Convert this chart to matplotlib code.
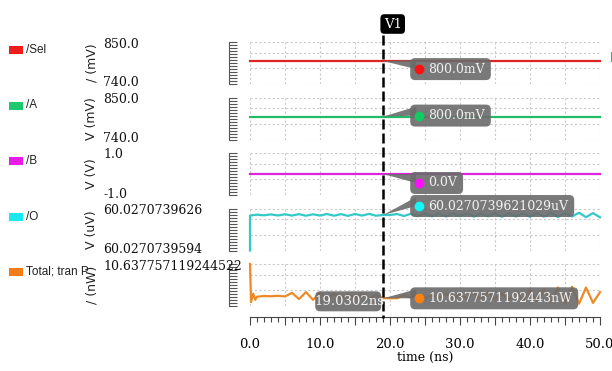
import numpy as np
import matplotlib
matplotlib.use("Agg")
import matplotlib.pyplot as plt
from matplotlib.patches import FancyBboxPatch, Polygon, Rectangle
from matplotlib.ticker import FixedLocator, MultipleLocator, FuncFormatter

W, H = 612, 371

# ---- signals -------------------------------------------------------------
names = ["/Sel", "/A", "/B", "/O", "Total; tran P"]
units = ["/ (mV)", "V (mV)", "V (V)", "V (uV)", "/ (nW)"]
trace_colors = ["#dd2424", "#22bb6a", "#de22de", "#35c8c8", "#ee8a26"]
swatch_colors = ["#ee1c1c", "#1ec86e", "#e81ce8", "#1ce8f0", "#f07c1c"]
marker_colors = ["#ff1010", "#10cc60", "#ff10ff", "#10f8f8", "#ff8010"]

sel_time = [0.0, 50.0]
sel_mv = [800.0, 800.0]
a_time = [0.0, 50.0]
a_mv = [800.0, 800.0]
b_time = [0.0, 50.0]
b_v = [0.0, 0.0]

# /O is flat to ~1e-10 uV, so keep it as offsets from the bottom of its range
o_ref_uv = 60.0270739594
o_scale_uv = 1e-10
o_time = [0.0] + list(range(0, 51))
o_delta = [0.0,
           26.6, 27.3, 26.8, 27.5, 26.7, 27.6, 26.6, 27.7, 26.5, 27.6,
           26.6, 27.8, 26.5, 27.7, 26.4, 27.8, 26.6, 27.9, 26.5, 27.1,
           27.0, 27.8, 26.3, 28.0, 26.2, 28.3, 26.0, 28.1, 25.9, 28.2,
           26.1, 28.4, 25.8, 28.3, 26.0, 28.5, 25.7, 28.2, 25.9, 28.6,
           25.6, 28.4, 25.8, 28.7, 25.5, 28.6, 25.9, 28.8, 25.4, 28.5,
           25.3]

# total power, offsets in 1e-14 nW from 10.63775711924425 nW
p_ref_nw = 10.63775711924425
p_scale_nw = 1e-14
p_time = [0.0, 0.15, 0.45, 0.75] + list(range(1, 51))
p_delta = [27.2, 2.5, 8.0, 4.0,
           6.0, 6.5, 6.3, 6.6, 6.2, 8.5, 4.5, 9.0, 4.0, 8.5,
           4.5, 8.0, 5.0, 7.5, 5.0, 8.0, 4.5, 7.0, 5.1, 5.0,
           5.0, 7.0, 5.5, 7.5, 5.0, 7.0, 5.5, 8.0, 4.5, 7.5,
           5.0, 8.5, 4.0, 9.0, 4.5, 8.0, 4.0, 9.5, 3.5, 10.5,
           3.0, 11.0, 2.5, 12.0, 2.0, 12.5, 1.5, 12.0, 2.0, 9.0]

ylims = [(740.0, 850.0), (740.0, 850.0), (-1.0, 1.0), (0.0, 32.0), (0.0, 27.2)]
range_labels = [("850.0", "740.0"), ("850.0", "740.0"), ("1.0", "-1.0"),
                ("60.0270739626", "60.0270739594"), ("10.637757119244522", None)]

series = [(sel_time, sel_mv), (a_time, a_mv), (b_time, b_v),
          (o_time, o_delta), (p_time, p_delta)]

# cursor V1 and its readouts
cursor_t = 19.0302
o_readout_uv = 60.0270739621029
p_readout_nw = 10.6377571192443
readout_values = [800.0, 800.0, 0.0,
                  (o_readout_uv - o_ref_uv) / o_scale_uv,
                  (p_readout_nw - p_ref_nw) / p_scale_nw]
readout_text = ["800.0mV", "800.0mV", "0.0V", "60.0270739621029uV", "10.6377571192443nW"]
readout_dy = [8, -1, 9, -9, 0]

# ---- layout --------------------------------------------------------------
plt.rcParams["font.family"] = "DejaVu Serif"
fig = plt.figure(figsize=(W / 100, H / 100), dpi=100)
fig.patch.set_facecolor("white")

tops = [42, 97.5, 153, 208.5, 264]
ph = 42
left, width = 250, 350
grid_fracs = [0.0, 0.38, 0.74, 1.0]
grid_kw = dict(color="#c9c9c9", lw=0.8, ls=(0, (2, 2)), zorder=0)

axes = []
for i, (t, y) in enumerate(series):
    ax = fig.add_axes([left / W, 1 - (tops[i] + ph) / H, width / W, ph / H])
    lo, hi = ylims[i]
    ax.set_xlim(0, 50)
    ax.set_ylim(lo, hi)
    ax.set_facecolor("none")
    for f in grid_fracs:
        ax.axhline(lo + f * (hi - lo), **grid_kw)
    for gx in range(0, 51, 5):
        ax.axvline(gx, **grid_kw)
    ax.plot(t, y, color=trace_colors[i], lw=1.6, zorder=2, clip_on=False)

    for s in ["top", "right", "bottom"]:
        ax.spines[s].set_visible(False)
    ax.spines["left"].set_position(("outward", 15))
    ax.spines["left"].set_color("#555555")
    ax.spines["left"].set_linewidth(0.8)
    ax.set_yticks([])
    ax.yaxis.set_minor_locator(FixedLocator(np.linspace(lo, hi, 15)))
    ax.tick_params(axis="y", which="minor", direction="in", length=5.5,
                   width=0.8, color="#555555", labelleft=False)
    ax.set_xticks([])
    axes.append(ax)

# time axis under the last strip
axb = axes[-1]
axb.spines["bottom"].set_visible(True)
axb.spines["bottom"].set_position(("outward", 8))
axb.spines["bottom"].set_color("#444444")
axb.spines["bottom"].set_linewidth(0.8)
axb.xaxis.set_major_locator(MultipleLocator(5))
axb.xaxis.set_minor_locator(MultipleLocator(1))
axb.xaxis.set_major_formatter(FuncFormatter(lambda v, p: f"{v:.1f}" if v % 10 == 0 else ""))
axb.tick_params(axis="x", which="major", direction="out", length=6, width=0.8,
                color="#444444", labelsize=9.5, pad=9)
axb.tick_params(axis="x", which="minor", direction="out", length=3.5, width=0.8,
                color="#444444")
axb.set_xlabel("time (ns)", fontsize=9, labelpad=0)

# ---- overlay in pixel coordinates -----------------------------------------
ov = fig.add_axes([0, 0, 1, 1])
ov.set_xlim(0, W)
ov.set_ylim(H, 0)
ov.axis("off")
ov.set_zorder(10)


def to_px(ax, x, y):
    dx, dy = ax.transData.transform((x, y))
    return dx, H - dy


for i in range(5):
    cy = tops[i] + ph / 2
    ov.add_patch(Rectangle((9, cy - 17), 14, 8, color=swatch_colors[i], lw=0))
    ov.text(26, cy - 13, names[i], fontsize=8.5, family="Liberation Sans",
            color="#222222", va="center", ha="left")
    ov.text(92, cy, units[i], rotation=90, fontsize=9, family="DejaVu Sans",
            color="#222222", va="center", ha="center")
    top_lbl, bot_lbl = range_labels[i]
    ov.text(103, tops[i] + 2, top_lbl, fontsize=9, va="center", ha="left", color="#111111")
    if bot_lbl:
        ov.text(103, tops[i] + ph - 1, bot_lbl, fontsize=9, va="center", ha="left", color="#111111")

# cursor
cx, _ = to_px(axes[0], cursor_t, 0)
ov.plot([cx, cx], [35, 318], color="black", lw=1.8, ls=(0, (4, 1.6)), zorder=3)
ov.text(cx + 9.5, 24, "V1", color="white", fontsize=9.5, ha="center", va="center", zorder=6,
        bbox=dict(boxstyle="round,pad=0.25,rounding_size=0.3", fc="black", ec="none"))

renderer = fig.canvas.get_renderer()
box_fc = "#6b6b6b"
for i, ax in enumerate(axes):
    ax_x, ax_y = to_px(ax, cursor_t, readout_values[i])
    bx = ax_x + 27
    cy = ax_y + readout_dy[i]
    txt = ov.text(bx + 18, cy, readout_text[i], fontsize=9, color="#f2f2f2",
                  va="center", ha="left", zorder=7)
    tw = txt.get_window_extent(renderer).width
    ov.add_patch(Polygon([(ax_x, ax_y), (bx + 6, cy - 9), (bx + 6, cy)],
                         closed=True, fc=box_fc, ec="none", alpha=0.9, zorder=5))
    ov.add_patch(FancyBboxPatch((bx, cy - 11), tw + 24, 22,
                                boxstyle="round,pad=0,rounding_size=5",
                                fc=box_fc, ec="none", alpha=0.9, zorder=5))
    ov.plot(bx + 9, cy, "o", ms=7, color=marker_colors[i], mec="none", zorder=7)

# time readout left of the cursor
py = to_px(axes[-1], cursor_t, readout_values[-1])[1] + 3
tt = ov.text(cx - 34, py, f"{cursor_t:.4f}ns", fontsize=9.5, color="#f2f2f2",
             va="center", ha="center", zorder=7)
ov.add_patch(FancyBboxPatch((cx - 68, py - 10), 66, 20,
                            boxstyle="round,pad=0,rounding_size=5",
                            fc=box_fc, ec="none", alpha=0.92, zorder=5))

# edge of the neighbouring pane
ov.add_patch(Rectangle((610.5, 52), 3, 10, color="#22bb6a", lw=0))

fig.savefig("out.png", dpi=100)
